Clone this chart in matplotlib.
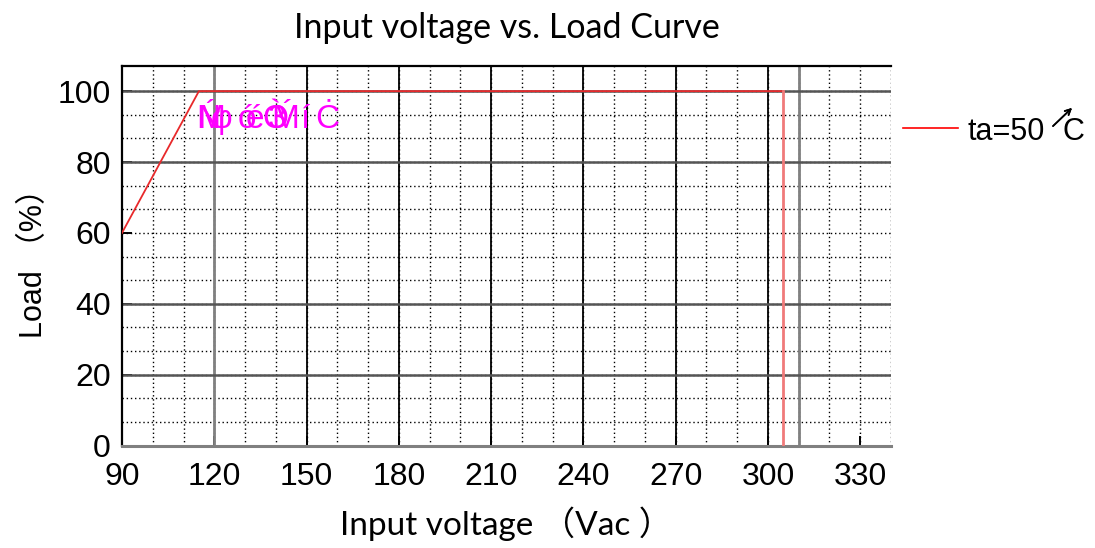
import matplotlib
matplotlib.use("Agg")
import matplotlib.pyplot as plt
from matplotlib.lines import Line2D

# derating curve
volts = [90, 115, 305, 305]
load = [60, 100, 100, 0]
curve_label = "ta=50"

x_ticks = [90, 120, 150, 180, 210, 240, 270, 300, 330]
y_ticks = [0, 20, 40, 60, 80, 100]

W, H = 1095, 548
fig = plt.figure(figsize=(W / 100, H / 100), dpi=100)
ax = fig.add_axes([122 / W, 1 - 445.5 / H, (891 - 122) / W, (445.5 - 66) / H])
ax.set_xlim(90, 340)
ax.set_ylim(0, 107.1)

# grid: dotted minor lines, solid majors
dot = dict(color="black", lw=1.0, linestyle=(0, (1, 2)), zorder=1)
for v in range(100, 341, 10):
    ax.axvline(v, **dot)
for i in range(1, 16):
    ax.axhline(i * 100 / 15, **dot)
for v in [150, 180, 210, 240, 270, 300]:
    ax.axvline(v, color="black", lw=1.3, zorder=2)
for v in [120, 310]:
    ax.axvline(v, color="#808080", lw=2.0, zorder=2)
for v in [20, 40, 80, 100]:
    ax.axhline(v, color="#555555", lw=1.8, zorder=2)

ax.plot(volts[:3], load[:3], color="#e8292b", lw=1.3, zorder=4)
ax.plot(volts[2:], load[2:], color="#f07a7a", lw=2.0, zorder=4)

ax.spines["right"].set_visible(False)
ax.spines["top"].set_linewidth(1.6)
ax.spines["left"].set_linewidth(1.6)
ax.spines["bottom"].set_color("#808080")
ax.spines["bottom"].set_linewidth(2.2)

ax.set_xticks(x_ticks)
ax.set_yticks(y_ticks)
ax.tick_params(direction="in", length=7, width=1.4, labelsize=23)
ax.tick_params(axis="x", pad=12)
ax.tick_params(axis="y", pad=8)
for lab in ax.get_xticklabels() + ax.get_yticklabels():
    lab.set_family("Liberation Sans")

ax.set_title("Input voltage vs. Load Curve", family=["Lato", "Noto Sans CJK SC"],
             fontsize=24.5, pad=20)
ax.set_xlabel("Input voltage （Vac ）", family=["Lato", "Noto Sans CJK SC"],
              fontsize=24, labelpad=10)
ax.set_ylabel("Load （%）", family=["Liberation Sans", "Noto Sans CJK SC"],
              fontsize=22, labelpad=6)

# legend drawn by hand, outside on the right
fig.add_artist(Line2D([903 / W, 958 / W], [1 - 128 / H] * 2, color="red", lw=1.2))
fig.text(968 / W, 1 - 140 / H, curve_label, family="Liberation Sans", fontsize=22,
         va="baseline")
fig.text(1063 / W, 1 - 140 / H, "C", family="Liberation Sans", fontsize=22,
         va="baseline")
fig.add_artist(plt.annotate("", xy=(1074 / W, 1 - 106 / H), xytext=(1051 / W, 1 - 128 / H),
                            xycoords="figure fraction",
                            arrowprops=dict(arrowstyle="->", color="black", lw=1.2)))

# garbled magenta label from the source image
for ch, px in [("Ń", 196), ("M", 197), ("φ", 211), ("ó", 238), ("é", 246),
               ("Ò", 262), ("3", 268), ("Ḿ", 271), ("í", 301), ("Ċ", 315)]:
    fig.text(px / W, 1 - 128 / H, ch, color="#ff00ff", fontsize=24,
             family=["Liberation Sans", "DejaVu Sans"], va="baseline")

fig.savefig("out.png", dpi=100)
